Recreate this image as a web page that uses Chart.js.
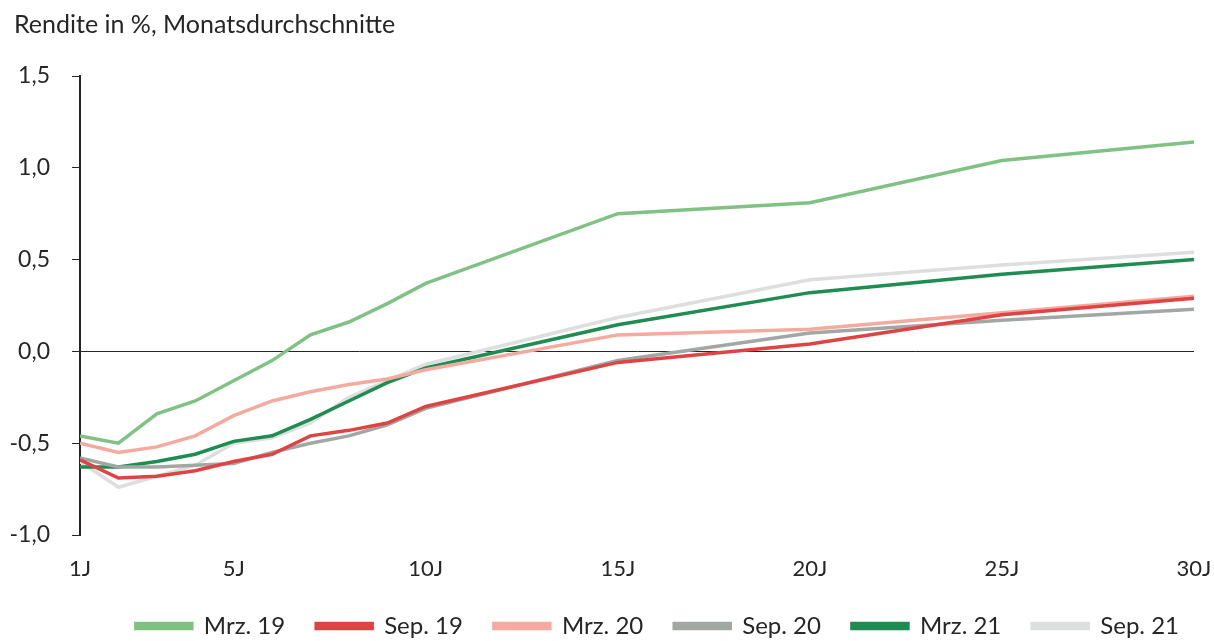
<!DOCTYPE html>
<html lang="de">
<head>
<meta charset="utf-8">
<title>Rendite in %, Monatsdurchschnitte</title>
<script src="https://cdn.jsdelivr.net/npm/chart.js@4.4.1/dist/chart.umd.min.js"></script>
<style>
  html, body { margin: 0; padding: 0; background: #fff; }
  #wrap { width: 1214px; height: 641px; position: relative; }
</style>
</head>
<body>
<div id="wrap"><canvas id="kurve"></canvas></div>
<script>
// Laufzeiten in Jahren
const laufzeiten = [1, 2, 3, 4, 5, 6, 7, 8, 9, 10, 15, 20, 25, 30];
const xTicks = [1, 5, 10, 15, 20, 25, 30];

// Renditen (%) je Monat
const mrz19 = [-0.46, -0.50, -0.34, -0.27, -0.16, -0.05, 0.09, 0.16, 0.26, 0.37, 0.75, 0.81, 1.04, 1.14];
const sep19 = [-0.59, -0.69, -0.68, -0.65, -0.60, -0.56, -0.46, -0.43, -0.39, -0.30, -0.06, 0.04, 0.20, 0.29];
const mrz20 = [-0.50, -0.55, -0.52, -0.46, -0.35, -0.27, -0.22, -0.18, -0.15, -0.10, 0.09, 0.12, 0.21, 0.30];
const sep20 = [-0.58, -0.63, -0.63, -0.62, -0.61, -0.55, -0.50, -0.46, -0.40, -0.31, -0.05, 0.10, 0.17, 0.23];
const mrz21 = [-0.63, -0.63, -0.60, -0.56, -0.49, -0.46, -0.37, -0.27, -0.17, -0.09, 0.145, 0.32, 0.42, 0.50];
const sep21 = [-0.60, -0.74, -0.68, -0.62, -0.50, -0.47, -0.39, -0.25, -0.16, -0.07, 0.185, 0.39, 0.47, 0.54];

const serien = [
  { label: "Mrz. 19", data: mrz19, color: "#7fc283" },
  { label: "Sep. 19", data: sep19, color: "#e04343" },
  { label: "Mrz. 20", data: mrz20, color: "#f5aa9f" },
  { label: "Sep. 20", data: sep20, color: "#a1a8a3" },
  { label: "Mrz. 21", data: mrz21, color: "#1f8c51" },
  { label: "Sep. 21", data: sep21, color: "#dcdfdd" },
];

const schrift = "Lato, 'Open Sans', sans-serif";
const textFarbe = "#262626";

const datasets = serien.map((s) => ({
  label: s.label,
  data: s.data.map((v, i) => ({ x: laufzeiten[i], y: v })),
  borderColor: s.color,
  backgroundColor: s.color,
  borderWidth: 3.5,
  pointRadius: 0,
  tension: 0,
}));

// y-Labels dürfen bis an den linken Rand reichen (sonst wird das Minus abgeschnitten)
const yLabelsLinks = {
  id: "yLabelsLinks",
  afterLayout(chart) {
    chart.scales.y.left = 0;
  },
};

const ctx = document.querySelector("#kurve");

new Chart(ctx, {
  type: "line",
  data: { datasets },
  plugins: [yLabelsLinks],
  options: {
    responsive: true,
    maintainAspectRatio: false,
    animation: false,
    layout: { padding: { left: 14, right: 4, top: 0, bottom: -7 } },
    plugins: {
      title: {
        display: true,
        text: "Rendite in %, Monatsdurchschnitte",
        align: "start",
        color: textFarbe,
        font: { family: schrift, size: 25, weight: "normal" },
        padding: { top: 10, bottom: 36 },
      },
      legend: {
        position: "bottom",
        align: "end",
        labels: {
          boxWidth: 56,
          boxHeight: 5,
          padding: 31,
          color: textFarbe,
          font: { family: schrift, size: 24 },
        },
      },
      tooltip: { enabled: false },
    },
    scales: {
      x: {
        type: "linear",
        min: 1,
        max: 30,
        afterBuildTicks: (axis) => {
          axis.ticks = xTicks.map((v) => ({ value: v }));
        },
        afterFit: (axis) => {
          // nur halbe Labelbreite rechts freihalten, Höhe bis Unterkante der Labels
          axis.paddingRight = 20;
          axis.height = 48;
        },
        ticks: {
          callback: (v) => v + "J",
          color: textFarbe,
          padding: 21,
          maxRotation: 0,
          font: { family: schrift, size: 22 },
        },
        grid: { display: false, drawTicks: false },
        border: { display: false },
      },
      y: {
        min: -1,
        max: 1.5,
        afterFit: (axis) => {
          axis.width = 66;
        },
        ticks: {
          stepSize: 0.5,
          callback: (v) => v.toFixed(1).replace(".", ","),
          color: textFarbe,
          padding: 22,
          font: { family: schrift, size: 23 },
        },
        grid: {
          drawOnChartArea: true,
          drawTicks: true,
          tickLength: 8,
          tickColor: "#262626",
          lineWidth: 1,
          color: (c) => (c.tick && c.tick.value === 0 ? "#262626" : "rgba(0,0,0,0)"),
        },
        border: { display: true, color: "#262626", width: 2 },
      },
    },
  },
});
</script>
</body>
</html>
